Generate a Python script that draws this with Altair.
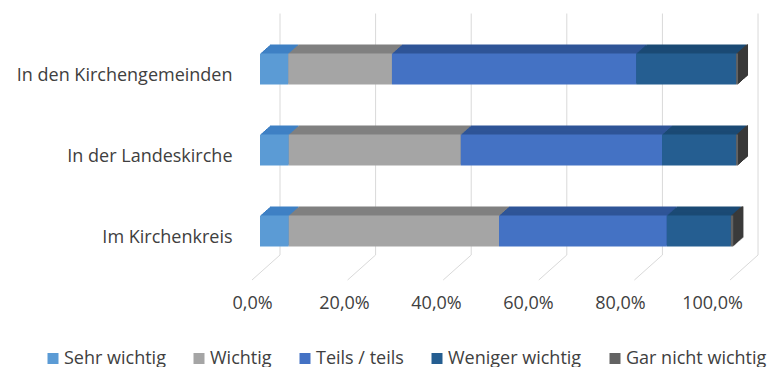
import altair as alt
import pandas as pd

# ---------------- data ----------------
categories = ["In den Kirchengemeinden", "In der Landeskirche", "Im Kirchenkreis"]
series = ["Sehr wichtig", "Wichtig", "Teils / teils", "Weniger wichtig", "Gar nicht wichtig"]
sehr_wichtig = [5.9, 6.0, 6.0]
wichtig = [21.7, 36.0, 44.0]
teils_teils = [51.1, 42.1, 35.1]
weniger_wichtig = [20.9, 15.5, 13.4]
gar_nicht_wichtig = [0.4, 0.4, 0.5]
tick_values = [0, 20, 40, 60, 80, 100]

# ---------------- styles ----------------
front_colors = ["#5B9BD5", "#A5A5A5", "#4472C4", "#255E91", "#636363"]
top_colors = ["#3F80C4", "#808080", "#2F5597", "#1B4A75", "#3A3A3A"]
side_color = "#3A3A3A"
grid_color = "#D9D9D9"
text_color = "#404040"
FONT = "Open Sans"

values_by_series = [sehr_wichtig, wichtig, teils_teils, weniger_wichtig, gar_nicht_wichtig]
rows = []
for si, (s, vals) in enumerate(zip(series, values_by_series)):
    for ci, c in enumerate(categories):
        rows.append({"category": c, "series": s, "value": vals[ci], "idx": si, "top": top_colors[si]})
df = pd.DataFrame(rows)
tot = df.groupby("category", as_index=False)["value"].sum().rename(columns={"value": "total"})
ticks = pd.DataFrame({"tick": tick_values})

BAR = 31
N = 10
DX = 1.0
DY = 0.9
xs = alt.Scale(domain=[-2.092, 106.69], nice=False, zero=False)
y_enc = alt.Y(
    "category:N",
    sort=categories,
    title=None,
    scale=alt.Scale(paddingInner=0, paddingOuter=0),
    axis=alt.Axis(domain=False, ticks=False, grid=False, labelPadding=18, labelOffset=7,
                  labelFontSize=18, labelFont=FONT, labelColor=text_color, labelLimit=400),
)

layers = []
# back wall grid
layers.append(
    alt.Chart(ticks).mark_rule(color=grid_color, strokeWidth=1, xOffset=20).encode(
        x=alt.X("tick:Q", scale=xs, axis=None), y=alt.value(-15), y2=alt.value(226.5)
    )
)
# floor grid (diagonal)
layers.append(
    alt.Chart(ticks).mark_rule(color=grid_color, strokeWidth=1, xOffset=20, x2Offset=-8).encode(
        x=alt.X("tick:Q", scale=xs, axis=None), x2="tick:Q", y=alt.value(226.5), y2=alt.value(251.5)
    )
)
# 3D depth copies, back to front
for k in range(N, 0, -1):
    layers.append(
        alt.Chart(df).mark_bar(size=BAR, xOffset=k * DX, x2Offset=k * DX, yOffset=-k * DY).encode(
            x=alt.X("value:Q", stack="zero", scale=xs, axis=None),
            y=y_enc,
            fill=alt.Fill("top:N", scale=None, legend=None),
            order=alt.Order("idx:Q"),
        )
    )
    layers.append(
        alt.Chart(tot).mark_bar(size=BAR, color=side_color, xOffset=(k - 1) * DX, x2Offset=k * DX,
                                yOffset=-k * DY).encode(
            x=alt.X("total:Q", scale=xs, axis=None), x2="total:Q", y=y_enc
        )
    )
# front faces
layers.append(
    alt.Chart(df).mark_bar(size=BAR).encode(
        x=alt.X("value:Q", stack="zero", scale=xs, axis=None),
        y=y_enc,
        color=alt.Color(
            "series:N",
            scale=alt.Scale(domain=series, range=front_colors),
            legend=alt.Legend(orient="none", legendX=-206, legendY=321, direction="horizontal",
                              title=None, symbolType="square", symbolSize=121, symbolStrokeWidth=0,
                              labelFontSize=18, labelFont=FONT, labelColor=text_color,
                              columnPadding=24, labelOffset=2, labelLimit=300),
        ),
        order=alt.Order("idx:Q"),
    )
)
bars = alt.layer(*layers)

axis_layer = alt.Chart(ticks).mark_point(opacity=0).encode(
    x=alt.X(
        "tick:Q",
        scale=alt.Scale(domain=[-0.435, 112.6], nice=False, zero=False),
        axis=alt.Axis(values=tick_values, labelExpr="datum.value + ',0%'", orient="bottom",
                      grid=False, domain=False, ticks=False, labelPadding=23, title=None,
                      labelFontSize=18, labelFont=FONT, labelColor=text_color),
    ),
    y=alt.value(0),
)

chart = (
    alt.layer(bars, axis_layer)
    .resolve_scale(x="independent")
    .properties(
        width=520,
        height=243,
        autosize=alt.AutoSizeParams(type="none"),
        padding={"left": 242, "top": 20.5, "right": 0, "bottom": 96.5},
        background="white",
    )
    .configure_view(stroke=None)
)

chart.save("out.html", embed_options={"renderer": "svg", "actions": False})
